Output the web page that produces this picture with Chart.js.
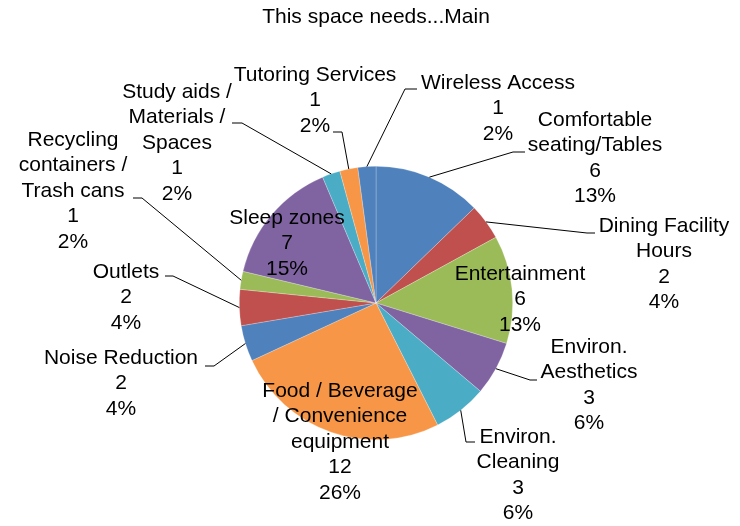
<!DOCTYPE html>
<html lang="en">
<head>
  <meta charset="UTF-8">
  <title>This space needs...Main</title>
  <style>
    body { margin: 0; background: #fff; }
    #chart { display: block; }
  </style>
</head>
<body>
  <canvas id="chart" width="740" height="526"></canvas>

  <script src="https://cdn.jsdelivr.net/npm/chart.js"></script>
  <script>
    const categories = [
      'Comfortable seating/Tables', 'Dining Facility Hours', 'Entertainment',
      'Environ. Aesthetics', 'Environ. Cleaning', 'Food / Beverage / Convenience equipment',
      'Noise Reduction', 'Outlets', 'Recycling containers / Trash cans', 'Sleep zones',
      'Study aids / Materials / Spaces', 'Tutoring Services', 'Wireless Access'
    ];
    const counts = [6, 2, 6, 3, 3, 12, 2, 2, 1, 7, 1, 1, 1];
    const palette = ['#4F81BD', '#C0504D', '#9BBB59', '#8064A2', '#4BACC6', '#F79646'];

    // how Excel wrapped each category name
    const wrapped = [
      ['Comfortable', 'seating/Tables'], ['Dining Facility', 'Hours'], ['Entertainment'],
      ['Environ.', 'Aesthetics'], ['Environ.', 'Cleaning'], ['Food / Beverage', '/ Convenience', 'equipment'],
      ['Noise Reduction'], ['Outlets'], ['Recycling', 'containers /', 'Trash cans'], ['Sleep zones'],
      ['Study aids /', 'Materials /', 'Spaces'], ['Tutoring Services'], ['Wireless Access']
    ];

    // label placement relative to pie centre: first line centre, leader elbow, leader tail x
    const labelPos = [
      { dx: 219, dy: -183, elbow: [137, -151], tail: 149 },
      { dx: 288, dy: -77, elbow: [211, -70], tail: 219 },
      { dx: 144, dy: -29 },
      { dx: 213, dy: 44, elbow: [154, 77], tail: 161 },
      { dx: 142, dy: 134, elbow: [90, 139], tail: 99 },
      { dx: -36, dy: 88 },
      { dx: -255, dy: 55, elbow: [-162, 63], tail: -171 },
      { dx: -250, dy: -31, elbow: [-203, -27], tail: -211 },
      { dx: -303, dy: -163, elbow: [-234, -105], tail: -243 },
      { dx: -89, dy: -85 },
      { dx: -199, dy: -211, elbow: [-134, -180], tail: -144 },
      { dx: -61, dy: -228, elbow: [-34, -171], tail: -43 },
      { dx: 122, dy: -220, elbow: [29, -214], tail: 41 }
    ];

    const total = counts.reduce((a, b) => a + b, 0);
    const FONT = '21px "Liberation Sans", Arial, sans-serif';
    const LINE = 25.5;

    const pieLabels = {
      id: 'pieLabels',
      afterDatasetsDraw(chart) {
        const ctx = chart.ctx;
        const meta = chart.getDatasetMeta(0);
        ctx.save();
        ctx.font = FONT;
        ctx.fillStyle = '#000';
        ctx.strokeStyle = '#000';
        ctx.lineWidth = 1;
        ctx.textAlign = 'center';
        ctx.textBaseline = 'middle';
        meta.data.forEach((arc, i) => {
          const p = arc.getProps(['x', 'y', 'startAngle', 'endAngle', 'outerRadius'], true);
          const pos = labelPos[i];
          if (pos.elbow) {
            const mid = (p.startAngle + p.endAngle) / 2;
            ctx.beginPath();
            ctx.moveTo(p.x + Math.cos(mid) * p.outerRadius, p.y + Math.sin(mid) * p.outerRadius);
            ctx.lineTo(p.x + pos.elbow[0], p.y + pos.elbow[1]);
            ctx.lineTo(p.x + pos.tail, p.y + pos.elbow[1]);
            ctx.stroke();
          }
          const lines = wrapped[i].concat([String(counts[i]), Math.round(counts[i] / total * 100) + '%']);
          lines.forEach((t, k) => {
            ctx.fillText(t, p.x + pos.dx, p.y + pos.dy + k * LINE);
          });
        });
        ctx.restore();
      }
    };

    new Chart(document.getElementById('chart'), {
      type: 'pie',
      data: {
        labels: categories,
        datasets: [{
          data: counts,
          backgroundColor: counts.map((v, i) => palette[i % palette.length]),
          borderColor: 'rgba(255,255,255,0.4)',
          borderWidth: 0.6
        }]
      },
      options: {
        responsive: false,
        animation: false,
        layout: { padding: { top: 0, bottom: 86, left: 239, right: 227 } },
        plugins: {
          legend: { display: false },
          tooltip: { enabled: false },
          title: {
            display: true,
            text: 'This space needs...Main',
            color: '#000',
            font: { family: '"Liberation Sans", Arial, sans-serif', size: 21, weight: 'normal', lineHeight: 1.2 },
            padding: { top: 5, bottom: 135.8 }
          }
        }
      },
      plugins: [pieLabels]
    });
  </script>
</body>
</html>
